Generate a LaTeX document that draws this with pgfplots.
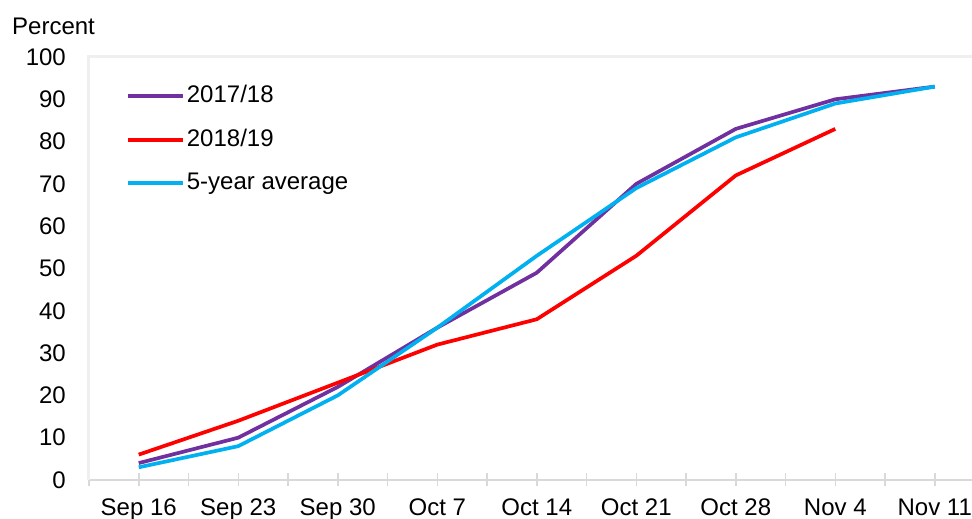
\documentclass[border=0pt]{standalone}
\usepackage{fontspec}
\setmainfont{Liberation Sans}
\usepackage{pgfplots}
\pgfplotsset{compat=1.18}
\definecolor{cPurple}{HTML}{7030A0}
\definecolor{cRed}{HTML}{FF0000}
\definecolor{cCyan}{HTML}{00B0F0}
\definecolor{cFrame}{HTML}{EFEFEF}
\definecolor{cAxis}{HTML}{D9D9D9}
\begin{document}
\fontsize{24bp}{28bp}\selectfont
\begin{tikzpicture}
\begin{axis}[
  name=ax,
  scale only axis,
  width=883bp, height=423bp,
  xmin=-0.5, xmax=8.374, ymin=0, ymax=100,
  axis x line*=bottom, axis y line=none,
  x axis line style={draw=cAxis, line width=2bp, -},
  xtick={0,...,8},
  minor xtick={-0.5,0.5,...,8.5},
  xticklabels={Sep 16,Sep 23,Sep 30,Oct 7,Oct 14,Oct 21,Oct 28,Nov 4,Nov 11},
  ytick={0,10,...,100},
  tick align=center,
  major tick length=13bp, minor tick length=13bp,
  tick style={draw=cAxis, line width=1.5bp},
  xticklabel style={font=\fontsize{24bp}{28bp}\selectfont, yshift=-4bp},
  yticklabel style={font=\fontsize{24bp}{28bp}\selectfont},
  /pgf/number format/assume math mode=true,
  clip=false,
  legend style={at={(rel axis cs:0,1)}, anchor=north west, xshift=34bp, yshift=-24bp,
    draw=none, fill=none, font=\fontsize{24bp}{28bp}\selectfont,
    row sep=19bp, nodes={inner sep=2bp}},
  legend cell align=left,
  legend image code/.code={\draw[#1] (0bp,0bp) -- (55bp,0bp);},
]
\draw[cFrame, line width=3bp] (rel axis cs:0,0) -- (rel axis cs:0,1) -- (rel axis cs:1.02,1);
\pgfplotsinvokeforeach{0,10,...,100}{\node[anchor=east] at ([xshift=-15bp]axis cs:-0.5,#1) {#1};}
\addplot[cPurple, line width=3.7bp] coordinates {(0,4) (1,10) (2,22) (3,36) (4,49) (5,70) (6,83) (7,90) (8,93)};
\addlegendentry{2017/18}
\addplot[cRed, line width=3.7bp] coordinates {(0,6) (1,14) (2,23) (3,32) (4,38) (5,53) (6,72) (7,83)};
\addlegendentry{2018/19}
\addplot[cCyan, line width=3.7bp] coordinates {(0,3) (1,8) (2,20) (3,36) (4,53) (5,69) (6,81) (7,89) (8,93)};
\addlegendentry{5-year average}
\end{axis}
\node[anchor=west] at ([xshift=-85bp,yshift=31bp]ax.north west) {Percent};
\pgfresetboundingbox
\path[use as bounding box] ([xshift=-89bp,yshift=-39bp]ax.south west) rectangle ([yshift=57bp]ax.north east);
\end{tikzpicture}
\end{document}
